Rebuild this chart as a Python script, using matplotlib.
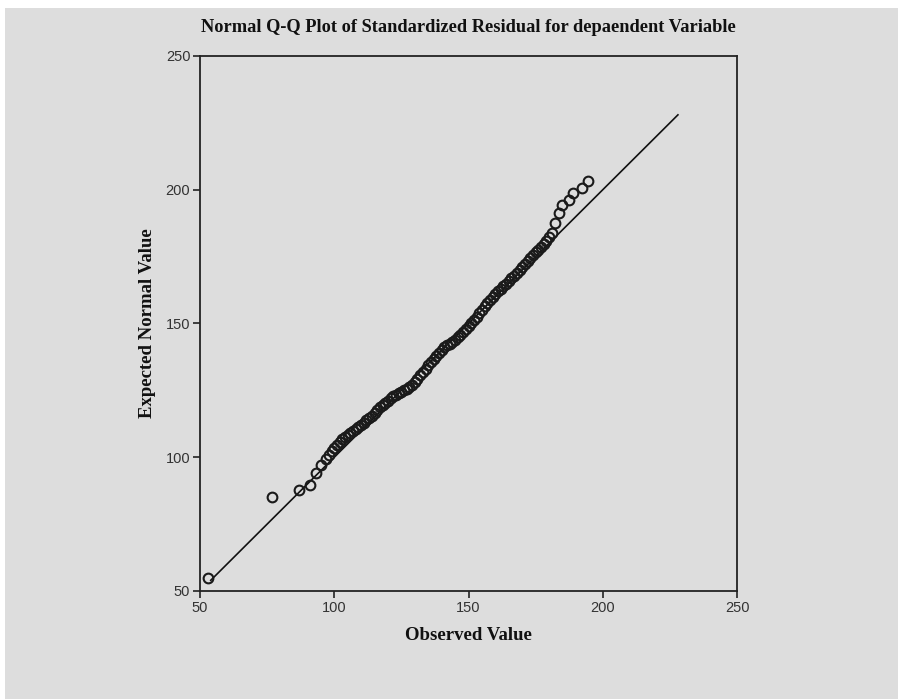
import matplotlib
matplotlib.use('Agg')
import matplotlib.pyplot as plt
from matplotlib.patches import Rectangle
import numpy as np

# Data
observed = [53.0, 77.0, 87.0, 91.0, 93.2, 95.0, 96.8, 98.0, 99.0, 100.0,
            101.0, 102.0, 103.0, 104.0, 105.0, 106.0, 107.0, 108.0, 109.0, 110.0,
            111.0, 112.0, 113.0, 114.0, 115.0, 116.0, 117.0, 118.0, 119.0, 120.0,
            121.0, 122.0, 123.0, 124.0, 125.0, 126.0, 127.0, 128.0, 129.0, 130.0,
            131.0, 132.0, 133.0, 134.0, 135.0, 136.0, 137.0, 138.0, 139.0, 140.0,
            141.0, 142.0, 143.0, 144.0, 145.0, 146.0, 147.0, 148.0, 149.0, 150.0,
            151.0, 152.0, 153.0, 154.0, 155.0, 156.0, 157.0, 158.0, 159.0, 160.0,
            161.0, 162.0, 163.0, 164.0, 165.0, 166.0, 167.0, 168.0, 169.0, 170.0,
            171.0, 172.0, 173.0, 174.0, 175.0, 176.0, 177.0, 178.0, 179.0, 180.0,
            181.0, 182.2, 183.8, 184.7, 187.5, 189.0, 192.2, 194.6]
expected = [55.0, 85.0, 87.8, 89.5, 94.0, 97.0, 99.5, 101.0, 102.5, 103.6,
            104.6, 105.8, 106.9, 107.6, 108.3, 109.1, 109.8, 110.5, 111.2, 112.0,
            112.8, 113.8, 114.7, 115.6, 116.6, 117.5, 118.6, 119.4, 120.3, 121.2,
            122.0, 122.8, 123.4, 124.0, 124.5, 125.0, 125.6, 126.3, 127.1, 128.2,
            129.4, 130.6, 131.8, 133.0, 134.3, 135.6, 136.8, 138.0, 139.1, 140.2,
            141.1, 141.8, 142.5, 143.2, 144.0, 144.8, 145.7, 146.7, 147.8, 149.0,
            150.2, 151.4, 152.6, 153.9, 155.2, 156.4, 157.6, 158.8, 160.0, 161.1,
            162.1, 163.0, 163.9, 164.9, 165.9, 166.9, 167.9, 169.0, 170.0, 171.1,
            172.2, 173.3, 174.4, 175.5, 176.6, 177.6, 178.7, 179.8, 181.0, 182.5,
            184.0, 187.5, 191.4, 194.3, 196.2, 198.7, 200.8, 203.4]
line_ends = [54, 228]
ticks = [50, 100, 150, 200, 250]

bg = '#dddddd'
serif = 'Liberation Serif'
sans = 'Liberation Sans'

fig = plt.figure(figsize=(8.98, 6.99), dpi=100, facecolor='white')
fig.patches.append(Rectangle((5/898, 0), 1, 1 - 8/699, transform=fig.transFigure,
                             facecolor=bg, edgecolor='none', zorder=-10))

ax = fig.add_axes([200/898, 1 - 591/699, 537/898, 535/699])
ax.set_facecolor(bg)

ax.plot(line_ends, line_ends, color='#111111', lw=1.2, zorder=2)
ax.plot(observed, expected, 'o', mfc='none', mec='#1a1a1a', ms=7, mew=1.5, zorder=3)

ax.set_xlim(50, 250)
ax.set_ylim(50, 250)
ax.set_xticks(ticks)
ax.set_yticks(ticks)
for s in ax.spines.values():
    s.set_color('#222222')
    s.set_linewidth(1.3)
ax.tick_params(direction='out', length=5, width=1.2, color='#222222',
               labelsize=10.5, labelcolor='#333333', pad=2)
for lab in ax.get_xticklabels() + ax.get_yticklabels():
    lab.set_family(sans)

fig.text(468/898, 1 - 28/699, 'Normal Q-Q Plot of Standardized Residual for depaendent Variable',
         ha='center', va='center', family=serif, weight='bold', fontsize=13.2, color='#111111')
fig.text(468/898, 1 - 635/699, 'Observed Value', ha='center', va='center',
         family=serif, weight='bold', fontsize=13.5, color='#111111')
fig.text(147/898, 1 - 323/699, 'Expected Normal Value', ha='center', va='center',
         rotation=90, family=serif, weight='bold', fontsize=13.5, color='#111111')

fig.savefig('out.png', dpi=100, facecolor=fig.get_facecolor())
